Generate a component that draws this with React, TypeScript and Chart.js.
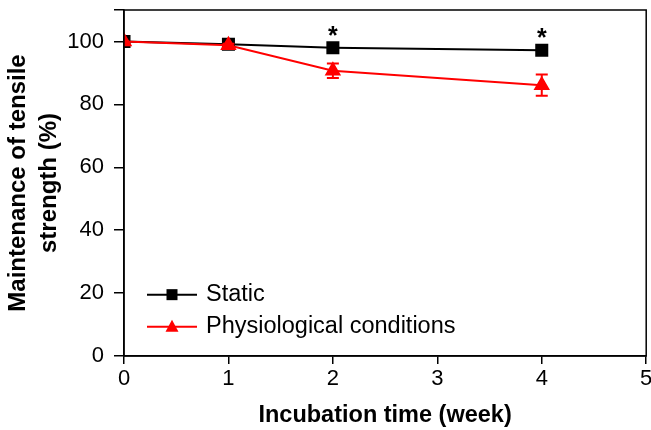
import React, { useEffect, useRef } from "react";
import { Chart, registerables } from "chart.js";

Chart.register(...registerables);

const weeks = [0, 1, 2, 4];
const staticValues = [100, 99.1, 98.0, 97.2];
const physioValues = [100, 98.8, 90.7, 86.1];
const physioErrors = [0, 0.5, 2.3, 3.4];
const significant = [false, false, true, true];
const seriesLabels = ["Static", "Physiological conditions"];
const xTitle = "Incubation time (week)";
const yTitle = ["Maintenance of tensile", "strength (%)"];

const FONT = "'Liberation Sans', Arial, Helvetica, sans-serif";

const frameAndExtras = {
  id: "frameAndExtras",
  afterDatasetsDraw(chart: any) {
    const { ctx, chartArea, scales } = chart;
    const xs = scales.x;
    const ys = scales.y;
    ctx.save();
    // error bars
    ctx.strokeStyle = "#ff0000";
    ctx.lineWidth = 2;
    weeks.forEach((w, i) => {
      const e = physioErrors[i];
      if (!e) return;
      const px = xs.getPixelForValue(w);
      const top = ys.getPixelForValue(physioValues[i] + e);
      const bot = ys.getPixelForValue(physioValues[i] - e);
      ctx.beginPath();
      ctx.moveTo(px, top);
      ctx.lineTo(px, bot);
      ctx.moveTo(px - 6, top);
      ctx.lineTo(px + 6, top);
      ctx.moveTo(px - 6, bot);
      ctx.lineTo(px + 6, bot);
      ctx.stroke();
    });
    // significance stars
    ctx.fillStyle = "#000";
    ctx.font = `bold 25px ${FONT}`;
    ctx.textAlign = "center";
    ctx.textBaseline = "alphabetic";
    weeks.forEach((w, i) => {
      if (!significant[i]) return;
      const px = xs.getPixelForValue(w);
      const py = ys.getPixelForValue(staticValues[i]);
      ctx.fillText("*", px, py - 4);
    });
    // frame
    ctx.strokeStyle = "#000";
    ctx.lineWidth = 1.5;
    ctx.strokeRect(chartArea.left, chartArea.top, chartArea.right - chartArea.left, chartArea.bottom - chartArea.top);
    // legend
    const ds = chart.data.datasets;
    const rows = [ds[1], ds[0]];
    const x0 = chartArea.left + 23;
    const lineLen = 50;
    const y0 = ys.getPixelForValue(19.5);
    const rowGap = 32;
    rows.forEach((d: any, r: number) => {
      const y = y0 + r * rowGap;
      ctx.strokeStyle = d.borderColor;
      ctx.lineWidth = 2;
      ctx.beginPath();
      ctx.moveTo(x0, y);
      ctx.lineTo(x0 + lineLen, y);
      ctx.stroke();
      ctx.fillStyle = d.pointBackgroundColor;
      const cx = x0 + lineLen / 2;
      if (d.pointStyle === "rect") {
        ctx.fillRect(cx - 5.5, y - 5.5, 11, 11);
      } else {
        ctx.beginPath();
        ctx.moveTo(cx, y - 7);
        ctx.lineTo(cx + 6.5, y + 5);
        ctx.lineTo(cx - 6.5, y + 5);
        ctx.closePath();
        ctx.fill();
      }
      ctx.fillStyle = "#000";
      ctx.font = `23.5px ${FONT}`;
      ctx.textAlign = "left";
      ctx.textBaseline = "middle";
      ctx.fillText(d.label, x0 + lineLen + 9, y);
    });
    ctx.restore();
  },
};

export default function App() {
  const ref = useRef<HTMLCanvasElement>(null);
  useEffect(() => {
    if (!ref.current) return;
    const chart = new Chart(ref.current, {
      type: "line",
      data: {
        datasets: [
          {
            label: seriesLabels[1],
            data: weeks.map((w, i) => ({ x: w, y: physioValues[i] })),
            borderColor: "#ff0000",
            backgroundColor: "#ff0000",
            pointBackgroundColor: "#ff0000",
            pointBorderColor: "#ff0000",
            pointStyle: "triangle",
            pointRadius: 7.5,
            borderWidth: 2,
            order: 0,
          },
          {
            label: seriesLabels[0],
            data: weeks.map((w, i) => ({ x: w, y: staticValues[i] })),
            borderColor: "#000000",
            backgroundColor: "#000000",
            pointBackgroundColor: "#000000",
            pointBorderColor: "#000000",
            pointStyle: "rect",
            pointRadius: 7.8,
            borderWidth: 2,
            order: 1,
          },
        ],
      },
      options: {
        animation: false,
        responsive: false,
        layout: { padding: { left: 0, top: 10, right: 2, bottom: 0 } },
        plugins: { legend: { display: false }, tooltip: { enabled: false } },
        scales: {
          x: {
            type: "linear",
            min: 0,
            max: 5,
            ticks: { stepSize: 1, color: "#000", font: { family: FONT, size: 22 }, padding: 2 },
            grid: { drawOnChartArea: false, drawTicks: true, tickLength: 8, color: "#000", lineWidth: 1.5 },
            border: { display: true, color: "#000", width: 1.5 },
            title: { display: true, text: xTitle, color: "#000", font: { family: FONT, size: 23.5, weight: "bold" }, padding: { top: 0, bottom: 0 } },
            afterFit(s: any) { s.height = 74; s.paddingLeft = 0; s.paddingRight = 0; },
          },
          y: {
            min: 0,
            max: 110,
            ticks: { stepSize: 20, color: "#000", font: { family: FONT, size: 22 }, padding: 10, callback: (v: any) => (v % 20 === 0 && v <= 100 ? String(v) : "") },
            grid: { drawOnChartArea: false, drawTicks: true, tickLength: 10, color: "#000", lineWidth: 1.5 },
            border: { display: true, color: "#000", width: 1.5 },
            title: { display: true, text: yTitle, color: "#000", font: { family: FONT, size: 24, weight: "bold", lineHeight: 1.3 }, padding: { top: 3, bottom: 0 } },
            afterFit(s: any) { s.width = 124; s.paddingTop = 0; s.paddingBottom = 0; },
          },
        },
      },
      plugins: [frameAndExtras],
    });
    return () => chart.destroy();
  }, []);
  return (
    <div style={{ position: "fixed", left: 0, top: 0, width: 651, height: 430, overflow: "hidden", background: "#fff" }}>
      <canvas ref={ref} width={656} height={430} style={{ display: "block" }} />
    </div>
  );
}
